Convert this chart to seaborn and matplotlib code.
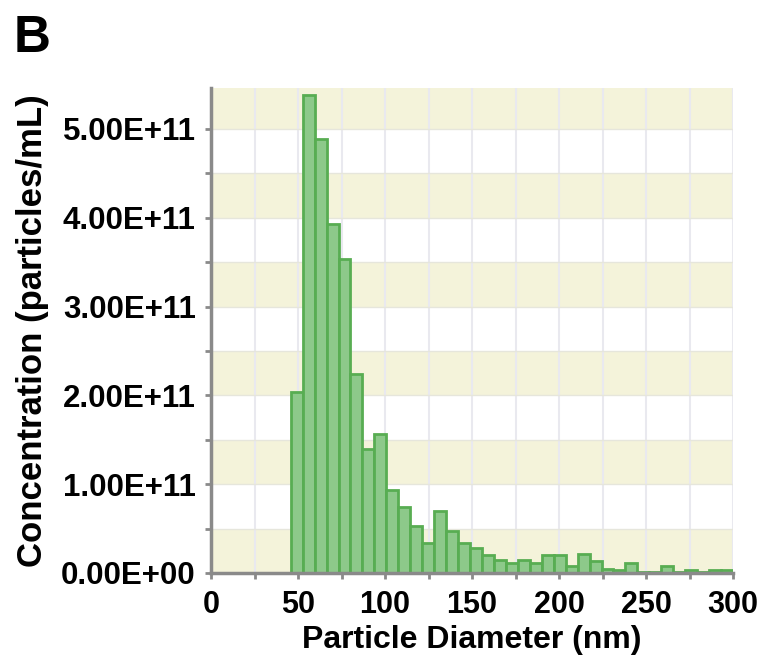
import numpy as np
import matplotlib
matplotlib.use('Agg')
import matplotlib.pyplot as plt
import seaborn as sns
from matplotlib.ticker import FuncFormatter, MultipleLocator

# bin centres (nm) and concentration (particles/mL)
diameter = [49.2, 56.1, 63.0, 69.8, 76.7, 83.6, 90.5, 97.3, 104.2, 111.1,
            118.0, 124.8, 131.7, 138.6, 145.5, 152.3, 159.2, 166.1, 173.0, 179.8,
            186.7, 193.6, 200.5, 207.3, 214.2, 221.1, 228.0, 234.8, 241.7, 248.6,
            255.5, 262.3, 269.2, 276.1, 283.0, 289.8, 296.7]
concentration = [2.04e11, 5.38e11, 4.89e11, 3.93e11, 3.54e11, 2.24e11, 1.40e11, 1.57e11, 0.93e11, 0.74e11,
                 0.53e11, 0.34e11, 0.70e11, 0.47e11, 0.34e11, 0.28e11, 0.20e11, 0.15e11, 0.115e11, 0.15e11,
                 0.115e11, 0.20e11, 0.20e11, 0.08e11, 0.21e11, 0.13e11, 0.05e11, 0.03e11, 0.115e11, 0.01e11,
                 0.01e11, 0.08e11, 0.01e11, 0.03e11, 0.01e11, 0.03e11, 0.03e11]
x_ticks = [0, 50, 100, 150, 200, 250, 300]
y_ticks = [0, 1e11, 2e11, 3e11, 4e11, 5e11]

sns.set_style('white')
plt.rcParams['font.family'] = ['Liberation Sans', 'DejaVu Sans']
plt.rcParams['text.color'] = 'black'
plt.rcParams['axes.labelcolor'] = 'black'
plt.rcParams['xtick.labelcolor'] = 'black'
plt.rcParams['ytick.labelcolor'] = 'black'

fig = plt.figure(figsize=(7.59, 6.64), dpi=100)
ax = fig.add_axes([211/759, 91/664, 522/759, 485/664])

# alternating pale bands
for lo in np.arange(0, 5.5e11, 1e11):
    ax.axhspan(lo, lo + 0.5e11, color='#f4f3da', zorder=0, lw=0)
ax.set_axisbelow(True)
ax.xaxis.set_minor_locator(MultipleLocator(25))
ax.yaxis.set_minor_locator(MultipleLocator(0.5e11))
ax.grid(which='both', axis='x', color='#e9e9ef', lw=1.5)
ax.grid(which='both', axis='y', color='#e6e6dc', lw=1)

sns.histplot(x=diameter, weights=concentration, bins=37, binrange=(45.8, 300),
             color='#8dc98a', edgecolor='#58ad52', linewidth=2, alpha=1, ax=ax, zorder=2)

ax.set_xlim(0, 300)
ax.set_ylim(0, 5.46e11)
ax.set_xticks(x_ticks)
ax.set_yticks(y_ticks)
ax.yaxis.set_major_formatter(FuncFormatter(lambda v, p: '{:.2E}'.format(v)))

for s in ['top', 'right']:
    ax.spines[s].set_visible(False)
for s in ['left', 'bottom']:
    ax.spines[s].set_color('#8a8a8a')
    ax.spines[s].set_linewidth(2.5)

ax.tick_params(axis='both', which='both', direction='out', color='#8a8a8a', length=4, width=2, left=True, bottom=True)
ax.tick_params(axis='x', labelsize=22, pad=8)
ax.tick_params(axis='y', labelsize=22.5, pad=7)
for lab in ax.get_xticklabels() + ax.get_yticklabels():
    lab.set_fontweight('bold')

ax.set_xlabel('Particle Diameter (nm)', fontsize=23, fontweight='bold', labelpad=4)
ax.set_ylabel('Concentration (particles/mL)', fontsize=25, fontweight='bold', labelpad=9)

fig.text(14/759, 1 - 52/664, 'B', fontsize=37, fontweight='bold')

fig.savefig('out.png', dpi=100)
